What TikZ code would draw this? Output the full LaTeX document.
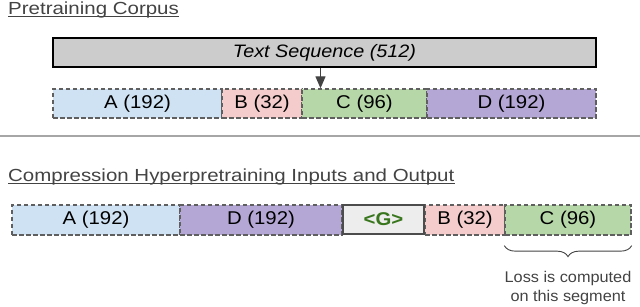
\documentclass[tikz,border=0pt]{standalone}
\usepackage{fontspec}
\setmainfont{Liberation Sans}[FakeStretch=1.1]
\newfontfamily\titlefont{Liberation Sans}[FakeStretch=1.17]
\newfontfamily\lossfont{Liberation Sans}[FakeStretch=1.05]
\usetikzlibrary{decorations.pathreplacing,arrows.meta}
\definecolor{segA}{HTML}{CFE2F3}
\definecolor{segB}{HTML}{F4CCCC}
\definecolor{segC}{HTML}{B6D7A8}
\definecolor{segD}{HTML}{B4A7D6}
\definecolor{edgegray}{HTML}{5F5F5F}
\definecolor{titlegray}{HTML}{434343}
\definecolor{gtext}{HTML}{38761D}
\tikzset{
  seg/.style={draw=edgegray, dashed, dash pattern=on 4.5pt off 2.5pt, line width=1.3pt,
    minimum height=29pt, inner sep=0pt, font=\fontsize{18.5}{20}\selectfont, text=black},
  title/.style={anchor=base west, inner sep=0pt, text=titlegray, font=\titlefont\fontsize{17.5}{20}\selectfont},
  uline/.style={draw=titlegray, line width=1pt},
  arr/.style={draw=titlegray, line width=1.2pt, -{Triangle[length=12pt,width=10pt]}},
}
\begin{document}
\begin{tikzpicture}[x=1pt,y=-1pt]
\useasboundingbox (0,0) rectangle (640,307);
% top section
\node[title] (t1) at (8,15) {Pretraining Corpus};
\draw[uline] ([yshift=-2pt]t1.base west) -- ([yshift=-2pt]t1.base east);
\node[draw=black, line width=2.5pt, fill=black!20, minimum width=543pt, minimum height=29pt, inner sep=0pt,
  font=\fontsize{18}{20}\selectfont\itshape] (tseq) at (324.5,52.5) {Text Sequence (512)};
\node[seg, fill=segA, minimum width=169pt] (a1) at (137.5,103.5) {A (192)};
\node[seg, fill=segB, minimum width=80pt] (b1) at (262,103.5) {B (32)};
\node[seg, fill=segC, minimum width=125pt] (c1) at (364.5,103.5) {C (96)};
\node[seg, fill=segD, minimum width=169pt] (d1) at (511.5,103.5) {D (192)};
\coordinate (arrx) at (320.5,0);
\draw[arr] (tseq.south -| arrx) -- (c1.north -| arrx);
% separator
\coordinate (sepL) at (0,136);
\coordinate (sepR) at (640,136);
\draw[line width=1.5pt, draw=black!35] (sepL) -- (sepR);
% bottom section
\node[title] (t2) at (8,182) {Compression Hyperpretraining Inputs and Output};
\draw[uline] ([yshift=-2pt]t2.base west) -- ([yshift=-2pt]t2.base east);
\node[seg, fill=segA, minimum width=168pt, minimum height=30pt] (a2) at (96,220) {A (192)};
\node[seg, fill=segD, minimum width=162pt, minimum height=30pt] (d2) at (261,220) {D (192)};
\node[seg, fill=segB, minimum width=80pt, minimum height=30pt] (b2) at (465,220) {B (32)};
\node[seg, fill=segC, minimum width=126pt, minimum height=30pt] (c2) at (568,220) {C (96)};
\node[draw=black!70, line width=2.6pt, fill=black!7, minimum width=81pt, minimum height=29pt, inner sep=0pt,
  text=gtext, font=\fontsize{18.5}{20}\selectfont\bfseries] (g) at (383.5,219.5) {<G>};
\draw[decorate, decoration={brace, mirror, amplitude=11pt}, draw=titlegray, line width=0.9pt]
  ([yshift=-10pt]c2.south west) -- ([yshift=-10pt]c2.south east);
\node[align=center, text=titlegray, font=\lossfont\fontsize{15.5}{19}\selectfont, inner sep=0pt, anchor=north] (loss) at (568,271) {Loss is computed\\on this segment};
\end{tikzpicture}
\end{document}
